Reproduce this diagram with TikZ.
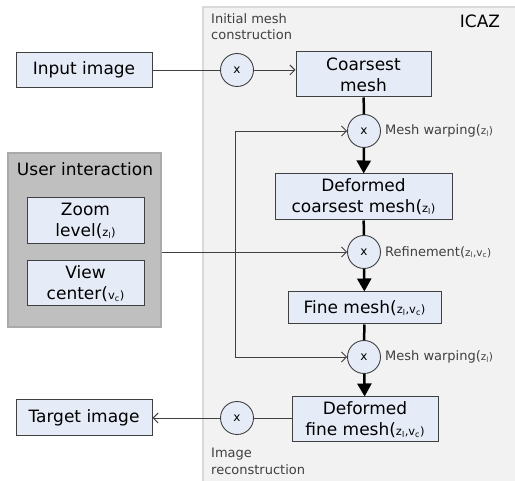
\documentclass[tikz,border=0pt]{standalone}
\usepackage{fontspec}
\setmainfont{DejaVu Sans}
\usetikzlibrary{arrows.meta}
\definecolor{boxfill}{RGB}{230,236,247}
\definecolor{boxline}{RGB}{64,64,64}
\definecolor{icazfill}{RGB}{242,242,242}
\definecolor{icazline}{RGB}{217,217,217}
\definecolor{userfill}{RGB}{191,191,191}
\definecolor{userline}{RGB}{170,170,170}
\newcommand{\zsub}{(\fontsize{11.5}{11}\selectfont z\textsubscript{l})}
\newcommand{\vsub}{(\fontsize{11.5}{11}\selectfont v\textsubscript{c})}
\newcommand{\zvsub}{(\fontsize{11.5}{11}\selectfont z\textsubscript{l},v\textsubscript{c})}
\newcommand{\zsubs}{(\fontsize{10.5}{9}\selectfont z\textsubscript{l})}
\newcommand{\zvsubs}{(\fontsize{10.5}{9}\selectfont z\textsubscript{l},v\textsubscript{c})}
\tikzset{
  box/.style={draw=boxline,fill=boxfill,line width=1pt,inner sep=0pt,
    align=center,font=\fontsize{17}{21}\selectfont},
  op/.style={circle,draw=boxline,fill=boxfill,line width=0.9pt,
    minimum size=33pt,inner sep=0pt,font=\fontsize{12}{12}\selectfont},
  lbl/.style={font=\fontsize{13}{16.5}\selectfont,text=boxline,inner sep=0pt},
  flow/.style={line width=0.9pt,draw=boxline},
  flowarr/.style={flow,-{Straight Barb[length=5pt,width=10pt]}},
  main/.style={line width=2.5pt,draw=black},
  mainarr/.style={main,-{Triangle[length=13pt,width=14pt]}}
}
\begin{document}
\begin{tikzpicture}[x=1pt,y=-1pt]
        \clip (0,0) rectangle (515,481);
        \fill[white] (0,0) rectangle (515,481);
        \draw[draw=icazline,fill=icazfill,line width=1.5pt] (203,7) rectangle (525,495);
        \node[font=\fontsize{17}{17}\selectfont] (icaz) at (480,21) {ICAZ};
        \node[draw=userline,fill=userfill,line width=1.5pt,minimum width=153pt,
          minimum height=174pt,inner sep=0pt] (user) at (84.5,240) {};
        \node[font=\fontsize{17}{17}\selectfont] (usertitle) at (85,169) {User interaction};
        \node[box,minimum width=117pt,minimum height=46pt] (zoom) at (85.5,221) {Zoom\\level\zsub};
        \node[box,minimum width=117pt,minimum height=45pt] (view) at (85.5,283.5) {View\\center\vsub};

        \node[box,minimum width=136pt,minimum height=35pt] (input) at (84,70) {Input image};
        \node[op] (init) at (237,70) {x};
        \node[box,minimum width=135pt,minimum height=45pt] (coarse) at (363.5,74.5) {Coarsest\\mesh};
        \node[op] (warpa) at (364,131) {x};
        \node[box,minimum width=177pt,minimum height=46pt] (dcoarse) at (363.5,197) {Deformed\\coarsest mesh\zsub};
        \node[op] (refine) at (364,252) {x};
        \node[box,minimum width=153pt,minimum height=32pt] (fine) at (364.5,308) {Fine mesh\zvsub};
        \node[op] (warpb) at (364,357) {x};
        \node[box,minimum width=146pt,minimum height=45pt] (dfine) at (365,419.5) {Deformed\\fine mesh\zvsub};
        \node[op] (recon) at (237,418) {x};
        \node[box,minimum width=136pt,minimum height=36pt] (target) at (84,418) {Target image};

        \node[lbl,anchor=north west,align=left] (initlbl) at (211,13) {Initial mesh\\construction};
        \node[lbl,anchor=north west,align=left] (reconlbl) at (211,448) {Image\\reconstruction};
        \node[lbl,anchor=west] (warpalbl) at ([xshift=4pt]warpa.east) {Mesh warping\zsubs};
        \node[lbl,anchor=west] (refinelbl) at ([xshift=4pt]refine.east) {Refinement\zvsubs};
        \node[lbl,anchor=west] (warpblbl) at ([xshift=4pt]warpb.east) {Mesh warping\zsubs};

        \coordinate (fbtop) at (235,131);
        \coordinate (fbbot) at (235,357);

        \draw[flow] (input) -- (init);
        \draw[flowarr] (init) -- (init -| coarse.west);
        \draw[main] (coarse) -- (warpa);
        \draw[mainarr] (warpa) -- (dcoarse);
        \draw[main] (dcoarse) -- (refine);
        \draw[mainarr] (refine) -- (fine);
        \draw[main] (fine) -- (warpb);
        \draw[mainarr] (warpb) -- (dfine);
        \draw[flow] (dfine.west |- recon) -- (recon);
        \draw[flowarr] (recon) -- (target);
        \draw[flowarr] (fbbot) -- (fbtop) -- (warpa);
        \draw[flowarr] (fbbot) -- (warpb);
        \draw[flowarr] (user.east |- refine) -- (refine);
      \end{tikzpicture}
\end{document}
